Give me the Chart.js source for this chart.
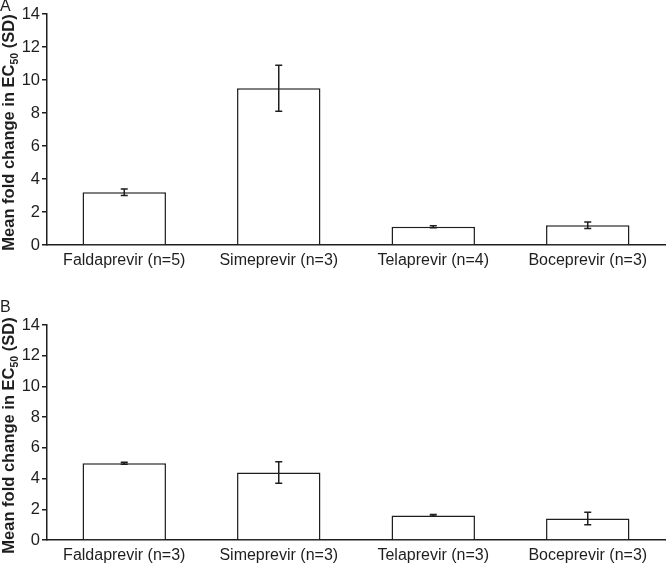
<!DOCTYPE html>
<html>
<head>
<meta charset="utf-8">
<script src="https://cdn.jsdelivr.net/npm/chart.js@4.4.0/dist/chart.umd.min.js"></script>
<style>
  body { margin: 0; background: #fff; }
  .panel { position: absolute; left: 0; width: 666px; height: 282px; }
</style>
</head>
<body>
<div class="panel" style="top:0"><canvas id="chartA" width="666" height="282"></canvas></div>
<div class="panel" style="top:282px"><canvas id="chartB" width="666" height="282"></canvas></div>
<script>
const categoriesA = ['Faldaprevir (n=5)', 'Simeprevir (n=3)', 'Telaprevir (n=4)', 'Boceprevir (n=3)'];
const meansA = [3.2, 9.5, 1.1, 1.2];
const sdA = [0.2, 1.4, 0.06, 0.2];

const categoriesB = ['Faldaprevir (n=3)', 'Simeprevir (n=3)', 'Telaprevir (n=3)', 'Boceprevir (n=3)'];
const meansB = [5.0, 4.4, 1.6, 1.4];
const sdB = [0.06, 0.7, 0.06, 0.4];

const yMin = 0;
const yMax = 14;
const yStep = 2;

const ink = '#1e1e1e';
const fontFamily = '"Liberation Sans", Arial, sans-serif';

// error bars drawn from the bar elements + y scale
const errorBars = {
  id: 'errorBars',
  afterDatasetsDraw(chart, args, opts) {
    const ctx = chart.ctx;
    const y = chart.scales.y;
    const meta = chart.getDatasetMeta(0);
    const data = chart.data.datasets[0].data;
    ctx.save();
    ctx.strokeStyle = ink;
    ctx.lineWidth = 1.5;
    meta.data.forEach((bar, i) => {
      const sd = opts.sd[i];
      const top = y.getPixelForValue(data[i] + sd);
      const bot = y.getPixelForValue(data[i] - sd);
      const x = bar.x;
      ctx.beginPath();
      ctx.moveTo(x, top); ctx.lineTo(x, bot);
      ctx.moveTo(x - 3.5, top); ctx.lineTo(x + 3.5, top);
      ctx.moveTo(x - 3.5, bot); ctx.lineTo(x + 3.5, bot);
      ctx.stroke();
    });
    ctx.restore();
  }
};

// rotated y title with subscript, plus the panel letter
const sideText = {
  id: 'sideText',
  afterDraw(chart, args, opts) {
    const ctx = chart.ctx;
    const area = chart.chartArea;
    ctx.save();
    ctx.fillStyle = ink;
    ctx.font = '16px ' + fontFamily;
    ctx.textBaseline = 'top';
    ctx.textAlign = 'left';
    ctx.fillText(opts.letter, 0, opts.letterY);

    const big = 'bold 16.5px ' + fontFamily;
    const small = 'bold 10.5px ' + fontFamily;
    const p1 = 'Mean fold change in EC';
    const p2 = '50';
    const p3 = ' (SD)';
    ctx.font = big;
    const w1 = ctx.measureText(p1).width;
    const w3 = ctx.measureText(p3).width;
    ctx.font = small;
    const w2 = ctx.measureText(p2).width;
    const total = w1 + w2 + w3;
    ctx.translate(14, (area.top + area.bottom) / 2 + 3);
    ctx.rotate(-Math.PI / 2);
    ctx.textBaseline = 'alphabetic';
    let x = -total / 2;
    ctx.font = big;
    ctx.fillText(p1, x, 0);
    x += w1;
    ctx.font = small;
    ctx.fillText(p2, x, 4);
    x += w2;
    ctx.font = big;
    ctx.fillText(p3, x, 0);
    ctx.restore();
  }
};

function makePanel(id, labels, means, sd, padTop, xHeight, letter, letterY) {
  return new Chart(document.getElementById(id), {
    type: 'bar',
    data: {
      labels: labels,
      datasets: [{
        data: means,
        backgroundColor: '#ffffff',
        borderColor: ink,
        borderWidth: 1.5,
        categoryPercentage: 1.0,
        barPercentage: 0.54
      }]
    },
    options: {
      responsive: false,
      devicePixelRatio: 1,
      animation: false,
      layout: { padding: { top: padTop, right: 1, bottom: 0, left: 0 } },
      plugins: {
        legend: { display: false },
        tooltip: { enabled: false },
        errorBars: { sd: sd },
        sideText: { letter: letter, letterY: letterY }
      },
      scales: {
        x: {
          grid: { display: false, drawTicks: false },
          border: { display: true, color: ink, width: 1.5 },
          ticks: { color: ink, font: { family: fontFamily, size: 16 }, padding: 6, maxRotation: 0 },
          afterFit: (s) => { s.height = xHeight; }
        },
        y: {
          min: yMin,
          max: yMax,
          grid: { drawOnChartArea: false, drawTicks: true, tickLength: 5, color: ink, lineWidth: 1.5 },
          border: { display: true, color: ink, width: 1.5 },
          ticks: { stepSize: yStep, color: ink, font: { family: fontFamily, size: 16.5 }, padding: 2 },
          afterFit: (s) => { s.width = 47; }
        }
      }
    },
    plugins: [errorBars, sideText]
  });
}

makePanel('chartA', categoriesA, meansA, sdA, 14, 37, 'A', -1);
makePanel('chartB', categoriesB, meansB, sdB, 43, 24, 'B', 18);
</script>
</body>
</html>
